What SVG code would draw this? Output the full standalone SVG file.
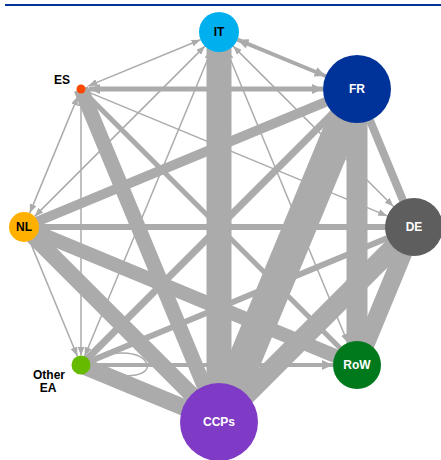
<svg xmlns="http://www.w3.org/2000/svg" width="441" height="460" viewBox="0 0 441 460">
<style>
.e{stroke:#ababab;fill:none;stroke-linecap:butt}
.t{stroke:#ababab;fill:none;stroke-width:1.5}
.lb{font-family:"Liberation Sans",Arial,sans-serif;font-weight:bold;font-size:12px;text-anchor:middle}
.w{fill:#ffffff}
.k{fill:#000000}
</style>
<defs>
<marker id="a" viewBox="0 0 10 10" refX="10" refY="5" markerWidth="9" markerHeight="7" markerUnits="userSpaceOnUse" orient="auto-start-reverse" preserveAspectRatio="none"><path d="M0,0 L10,5 L0,10 z" fill="#ababab"/></marker>
<marker id="b" viewBox="0 0 10 10" refX="10" refY="5" markerWidth="11" markerHeight="10" markerUnits="userSpaceOnUse" orient="auto-start-reverse" preserveAspectRatio="none"><path d="M0,0 L10,5 L0,10 z" fill="#ababab"/></marker>
</defs>
<line x1="5" y1="5" x2="441" y2="5" stroke="#003399" stroke-width="2"/>
<g id="connectors">
<line class="e" x1="219" y1="32" x2="219" y2="422" stroke-width="25"/>
<line class="e" x1="357" y1="89" x2="219" y2="422" stroke-width="33"/>
<line class="e" x1="357" y1="89" x2="357" y2="365" stroke-width="21"/>
<line class="e" x1="414" y1="227" x2="357" y2="365" stroke-width="18"/>
<line class="e" x1="414" y1="227" x2="219" y2="422" stroke-width="20"/>
<line class="e" x1="81" y1="89" x2="219" y2="422" stroke-width="15"/>
<line class="e" x1="24" y1="227" x2="219" y2="422" stroke-width="16"/>
<line class="e" x1="24" y1="227" x2="357" y2="365" stroke-width="14"/>
<line class="e" x1="81" y1="365" x2="219" y2="422" stroke-width="17"/>
<line class="e" x1="357" y1="89" x2="24" y2="227" stroke-width="10"/>
<line class="e" x1="357" y1="89" x2="81" y2="365" stroke-width="7"/>
<line class="e" x1="357" y1="89" x2="414" y2="227" stroke-width="8"/>
<line class="e" x1="24" y1="227" x2="414" y2="227" stroke-width="6"/>
<line class="e" x1="414" y1="227" x2="81" y2="365" stroke-width="6"/>
<line class="e" x1="81" y1="89" x2="357" y2="365" stroke-width="5"/>
<line class="e" x1="237.5" y1="39.7" x2="325.6" y2="76" stroke-width="4" marker-start="url(#b)" marker-end="url(#b)"/>
<line class="e" x1="89" y1="89" x2="323" y2="89" stroke-width="5" marker-start="url(#b)" marker-end="url(#b)"/>
<line class="e" x1="90.5" y1="365" x2="333" y2="365" stroke-width="4" marker-end="url(#b)"/>
<line class="t" x1="200.5" y1="39.7" x2="88.4" y2="85.9" stroke-width="2" marker-start="url(#a)" marker-end="url(#a)"/>
<line class="t" x1="204.9" y1="46.1" x2="34.6" y2="216.4" marker-start="url(#a)" marker-end="url(#a)"/>
<line class="t" x1="211.3" y1="50.5" x2="84.6" y2="356.2" marker-start="url(#a)" marker-end="url(#a)"/>
<line class="t" x1="226.7" y1="50.5" x2="347.8" y2="342.8" marker-start="url(#a)" marker-end="url(#a)"/>
<line class="t" x1="233.1" y1="46.1" x2="393.5" y2="206.5" marker-start="url(#a)" marker-end="url(#a)"/>
<line class="t" x1="88.4" y1="92.1" x2="387.2" y2="215.9" marker-end="url(#a)"/>
<line class="t" x1="77.9" y1="96.4" x2="29.7" y2="213.1" marker-start="url(#a)" marker-end="url(#a)"/>
<line class="t" x1="81" y1="97" x2="81" y2="355.5" marker-start="url(#a)" marker-end="url(#a)"/>
<line class="t" x1="29.7" y1="240.9" x2="77.4" y2="356.2" marker-end="url(#a)"/>
<path class="t" stroke-width="1" d="M89,360 C110,351 140,349 147,364 C151,376 122,381 90,369"/>
</g>
<g id="IT"><circle cx="219" cy="32" r="20" fill="#00b0ee"/><text class="lb k" x="219" y="36.3">IT</text></g>
<g id="FR"><circle cx="357" cy="89" r="34" fill="#003399"/><text class="lb w" x="357" y="93.3">FR</text></g>
<g id="DE"><circle cx="414" cy="227" r="29" fill="#5e5e5e"/><text class="lb w" x="414" y="231.3">DE</text></g>
<g id="RoW"><circle cx="357" cy="365" r="24" fill="#00781c"/><text class="lb w" x="357" y="369.3">RoW</text></g>
<g id="CCPs"><circle cx="219" cy="422" r="39" fill="#7f3bc6"/><text class="lb w" x="219" y="426.3">CCPs</text></g>
<g id="OtherEA"><circle cx="81" cy="365" r="9.5" fill="#66bb00"/><text class="lb k" x="49" y="379">Other</text><text class="lb k" x="48" y="392">EA</text></g>
<g id="NL"><circle cx="24" cy="227" r="15" fill="#ffb000"/><text class="lb k" x="24" y="231.3">NL</text></g>
<g id="ES"><circle cx="81" cy="89" r="4.5" fill="#ff4800"/><text class="lb k" x="62" y="84">ES</text></g>
</svg>
